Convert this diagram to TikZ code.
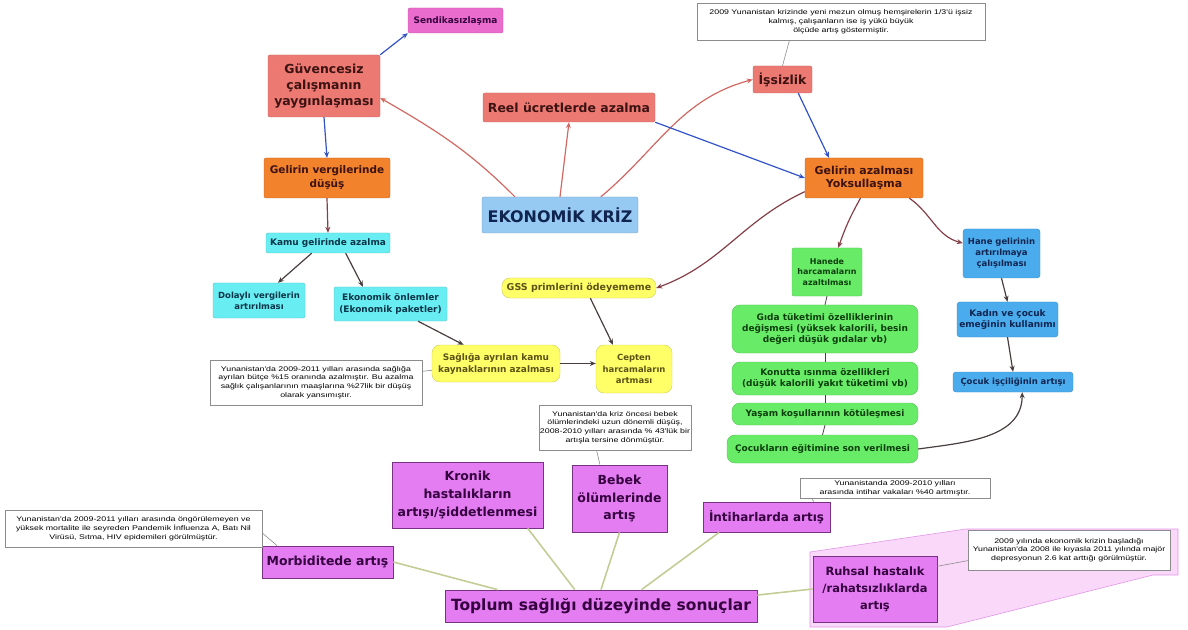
\documentclass[tikz,border=0pt]{standalone}
\usepackage{fontspec}
\setmainfont{Liberation Sans}
\newfontfamily\boxfont{DejaVu Sans}
\newfontfamily\notefont[FakeStretch=1.3]{Liberation Sans}
\usepackage{tikz}
\usetikzlibrary{positioning,calc}
\usetikzlibrary{arrows.meta}
\definecolor{SalmonRed}{RGB}{236,122,114}
\definecolor{PinkBox}{RGB}{234,108,204}
\definecolor{OrangeBox}{RGB}{242,130,44}
\definecolor{SkyBlue}{RGB}{150,202,242}
\definecolor{CyanBox}{RGB}{104,238,242}
\definecolor{YellowBox}{RGB}{255,255,104}
\definecolor{GreenBox}{RGB}{104,236,104}
\definecolor{BlueBox}{RGB}{74,172,236}
\definecolor{VioletBox}{RGB}{228,124,242}
\definecolor{VioletEdge}{RGB}{120,50,130}
\definecolor{CallPink}{RGB}{250,216,250}
\definecolor{CallEdge}{RGB}{226,150,232}
\definecolor{RedLine}{RGB}{210,104,98}
\definecolor{BlueLine}{RGB}{50,82,200}
\definecolor{DarkLine}{RGB}{72,62,62}
\definecolor{WineLine}{RGB}{132,62,72}
\definecolor{OliveLine}{RGB}{196,204,150}
\definecolor{RedText}{RGB}{60,18,18}
\definecolor{NavyText}{RGB}{16,36,80}
\definecolor{TealText}{RGB}{10,52,72}
\definecolor{OliveText}{RGB}{92,82,22}
\definecolor{LeafText}{RGB}{12,62,12}
\definecolor{PlumText}{RGB}{52,0,62}
\newcommand\fs[2]{\fontsize{#1}{#2}\selectfont}
\tikzset{
	box/.style={draw=#1!80!black,fill=#1,line width=0.4pt,inner sep=1pt,align=center},
	redbox/.style={box=SalmonRed,rounded corners=2pt,text=RedText},
	pkbox/.style={box=PinkBox,rounded corners=2pt,text=PlumText},
	orbox/.style={box=OrangeBox,rounded corners=2pt,text=RedText},
	cybox/.style={box=CyanBox,rounded corners=2pt,text=TealText},
	yebox/.style={box=YellowBox,rounded corners=8pt,text=OliveText},
	grbox/.style={box=GreenBox,rounded corners=8pt,text=LeafText},
	blbox/.style={box=BlueBox,rounded corners=3pt,text=NavyText},
	vibox/.style={draw=VioletEdge,fill=VioletBox,line width=0.8pt,inner sep=1pt,align=center,text=PlumText},
	notebox/.style={draw=black!45,fill=white,line width=0.5pt,inner sep=1pt,align=center,font=\notefont\fs{6.8}{8.8}},
	redarr/.style={draw=RedLine,line width=1.2pt,-{Stealth[length=6bp,width=5bp]}},
	bluearr/.style={draw=BlueLine,line width=1.2pt,-{Stealth[length=6bp,width=5bp]}},
	darkarr/.style={draw=DarkLine,line width=1.2pt,-{Stealth[length=6bp,width=5bp]}},
	winearr/.style={draw=WineLine,line width=1.2pt,-{Stealth[length=6bp,width=5bp]}},
	chain/.style={draw=DarkLine,line width=0.8pt},
	link/.style={draw=OliveLine,line width=1.6pt},
	tail/.style={draw=black!45,line width=0.6pt},
}

\begin{document}
\begin{tikzpicture}[x=1bp,y=1bp]
	\useasboundingbox (0,0) rectangle (1188,-630);
	% callout behind the Ruhsal box
	\filldraw[fill=CallPink,draw=CallEdge,line width=0.6pt] (810,-552) -- (966,-529) -- (1178,-529) -- (1178,-575) -- (1153,-575) -- (947,-627) -- (810,-627) -- cycle;

	% upper part
	\node[pkbox,minimum width=95bp,minimum height=25bp,font=\boxfont\bfseries\fs{9}{11}] (send) at (455.5,-20.5) {Sendikasızlaşma};
	\node[redbox,minimum width=112bp,minimum height=62bp,font=\boxfont\bfseries\fs{12.5}{16.5}] (guv) at (324,-86) {Güvencesiz\\çalışmanın\\yaygınlaşması};
	\node[redbox,minimum width=172bp,minimum height=29bp,font=\boxfont\bfseries\fs{12.5}{15}] (reel) at (569,-107.5) {Reel ücretlerde azalma};
	\node[redbox,minimum width=59bp,minimum height=27bp,font=\boxfont\bfseries\fs{12.5}{14}] (issiz) at (782.5,-79.5) {İşsizlik};
	\node[notebox,minimum width=288bp,minimum height=37bp] (notetop) at (841,-21.5) {2009 Yunanistan krizinde yeni mezun olmuş hemşirelerin 1/3'ü işsiz\\kalmış, çalışanların ise iş yükü büyük\\ölçüde artış göstermiştir.};
	\node[orbox,minimum width=118bp,minimum height=40bp,font=\boxfont\bfseries\fs{11}{13.5}] (gelaz) at (864,-178) {Gelirin azalması\\Yoksullaşma};
	\node[box=SkyBlue,rounded corners=2pt,text=NavyText,minimum width=156bp,minimum height=36bp,font=\boxfont\bfseries\fs{16}{20}] (kriz) at (560,-215) {EKONOMİK KRİZ};

	% left branch
	\node[orbox,minimum width=126bp,minimum height=40bp,font=\boxfont\bfseries\fs{10.5}{14}] (gelverg) at (327,-178) {Gelirin vergilerinde\\düşüş};
	\node[cybox,minimum width=124bp,minimum height=20bp,font=\boxfont\bfseries\fs{9}{11}] (kamu) at (328,-243) {Kamu gelirinde azalma};
	\node[cybox,minimum width=92bp,minimum height=35bp,font=\boxfont\bfseries\fs{8.5}{11}] (dolayli) at (259,-300.5) {Dolaylı vergilerin\\artırılması};
	\node[cybox,minimum width=113bp,minimum height=34bp,font=\boxfont\bfseries\fs{9}{11.5}] (ekon) at (390.5,-304) {Ekonomik önlemler\\(Ekonomik paketler)};
	\node[yebox,minimum width=154bp,minimum height=20bp,font=\boxfont\bfseries\fs{9.5}{12}] (gss) at (579,-288) {GSS primlerini ödeyememe};
	\node[yebox,minimum width=128bp,minimum height=37bp,font=\boxfont\bfseries\fs{9}{12}] (sagliga) at (496,-363.5) {Sağlığa ayrılan kamu\\kaynaklarının azalması};
	\node[yebox,minimum width=76bp,minimum height=48bp,font=\boxfont\bfseries\fs{8.5}{11.5}] (cepten) at (634,-369) {Cepten\\harcamaların\\artması};
	\node[notebox,minimum width=212bp,minimum height=45bp] (noteleft) at (316,-382.5) {Yunanistan'da 2009-2011 yılları arasında sağlığa\\ayrılan bütçe \%15 oranında azalmıştır. Bu azalma\\sağlık çalışanlarının maaşlarına \%27lik bir düşüş\\olarak yansımıştır.};

	% right branch
	\node[grbox,rounded corners=2pt,minimum width=70bp,minimum height=48bp,font=\boxfont\bfseries\fs{8}{11}] (hanede) at (827,-272) {Hanede\\harcamaların\\azaltılması};
	\node[grbox,minimum width=186bp,minimum height=48bp,font=\boxfont\bfseries\fs{9}{11.5}] (gida) at (825,-329) {Gıda tüketimi özelliklerinin\\değişmesi (yüksek kalorili, besin\\değeri düşük gıdalar vb)};
	\node[grbox,minimum width=186bp,minimum height=33bp,font=\boxfont\bfseries\fs{9}{11.5}] (konut) at (825,-378.5) {Konutta ısınma özellikleri\\(düşük kalorili yakıt tüketimi vb)};
	\node[grbox,minimum width=186bp,minimum height=22bp,font=\boxfont\bfseries\fs{9}{11.5}] (yasam) at (825,-414) {Yaşam koşullarının kötüleşmesi};
	\node[grbox,minimum width=191bp,minimum height=28bp,font=\boxfont\bfseries\fs{9}{11.5}] (cocegit) at (822.5,-449) {Çocukların eğitimine son verilmesi};
	\node[blbox,minimum width=77bp,minimum height=49bp,font=\boxfont\bfseries\fs{8.5}{11}] (hane) at (1001.5,-253.5) {Hane gelirinin\\artırılmaya\\çalışılması};
	\node[blbox,minimum width=101bp,minimum height=35bp,font=\boxfont\bfseries\fs{9}{11.5}] (kadin) at (1007.5,-319.5) {Kadın ve çocuk\\emeğinin kullanımı};
	\node[blbox,minimum width=120bp,minimum height=20bp,font=\boxfont\bfseries\fs{8.5}{11}] (cocisc) at (1013,-382) {Çocuk işçiliğinin artışı};

	% health outcomes
	\node[notebox,minimum width=150bp,minimum height=45bp] (notebebek) at (615,-427.5) {Yunanistan'da kriz öncesi bebek\\ölümlerindeki uzun dönemli düşüş,\\2008-2010 yılları arasında \% 43'lük bir\\artışla tersine dönmüştür.};
	\node[vibox,minimum width=151bp,minimum height=66bp,font=\boxfont\bfseries\fs{12.5}{18}] (kronik) at (467.5,-495) {Kronik\\hastalıkların\\artışı/şiddetlenmesi};
	\node[vibox,minimum width=95bp,minimum height=67bp,font=\boxfont\bfseries\fs{12.5}{18}] (bebek) at (619.5,-498.5) {Bebek\\ölümlerinde\\artış};
	\node[vibox,minimum width=127bp,minimum height=30bp,font=\boxfont\bfseries\fs{12}{15}] (intihar) at (766.5,-517) {İntiharlarda artış};
	\node[notebox,minimum width=190bp,minimum height=20bp] (noteintihar) at (895,-488) {Yunanistanda 2009-2010 yılları\\arasında intihar vakaları \%40 artmıştır.};
	\node[vibox,minimum width=131bp,minimum height=32bp,font=\boxfont\bfseries\fs{12.5}{15}] (morb) at (327.5,-562) {Morbiditede artış};
	\node[notebox,minimum width=257bp,minimum height=37bp] (notemorb) at (133.5,-528.5) {Yunanistan'da 2009-2011 yılları arasında öngörülemeyen ve\\yüksek mortalite ile seyreden Pandemik İnfluenza A, Batı Nil\\Virüsü, Sıtma, HIV epidemileri görülmüştür.};
	\node[vibox,minimum width=312bp,minimum height=32bp,font=\boxfont\bfseries\fs{15.5}{20}] (toplum) at (601,-606) {Toplum sağlığı düzeyinde sonuçlar};
	\node[vibox,minimum width=124bp,minimum height=66bp,font=\boxfont\bfseries\fs{11.5}{17}] (ruhsal) at (875,-589) {Ruhsal hastalık\\/rahatsızlıklarda\\artış};
	\node[notebox,minimum width=202bp,minimum height=40bp] (noteruhsal) at (1069,-550) {2009 yılında ekonomik krizin başladığı\\Yunanistan'da 2008 ile kıyasla 2011 yılında majör\\depresyonun 2.6 kat arttığı görülmüştür.};

	% connectors
	\draw[bluearr] (guv.north east) -- (send.south west);
	\draw[redarr] (kriz.158) to[out=135,in=-30] (guv.-12);
	\draw[redarr] (kriz.north) -- (reel.south);
	\draw[redarr] (kriz.24) to[out=40,in=195] (issiz.west);
	\draw[bluearr] (reel.south east) -- (gelaz.west);
	\draw[bluearr] (issiz.-41) -- (gelaz.150);
	\draw[bluearr] (guv.south) -- (gelverg.north);
	\draw[winearr] (gelverg.south) -- (kamu.north);
	\draw[darkarr] (kamu.-148) -- (dolayli.43);
	\draw[darkarr] (kamu.-30) -- (ekon.148);
	\draw[darkarr] (ekon.-32) -- (sagliga.150);
	\draw[darkarr] (gss.-42) -- (cepten.131);
	\draw[darkarr] (sagliga.east) -- (sagliga.east -| cepten.west);
	\draw[winearr] (gelaz.193) to[out=205,in=20] (gss.east);
	\draw[winearr] (gelaz.-100) to[bend right=5] (hanede.65);
	\draw[winearr] (gelaz.-24) to[out=-35,in=165] (hane.165);
	\draw[chain] (hanede.south) -- (gida.north);
	\draw[chain] (gida.south) -- (konut.north);
	\draw[chain] (konut.south) -- (yasam.north);
	\draw[chain] (yasam.south) -- (cocegit.north);
	\draw[darkarr] (hane.south) -- (kadin.north);
	\draw[darkarr] (kadin.south) -- (cocisc.north);
	\draw[darkarr] (cocegit.east) to[out=8,in=-90] (cocisc.-48);
	\draw[link] (toplum.171) -- (morb.east);
	\draw[link] (toplum.148) -- (kronik.-29);
	\draw[link] (toplum.north) -- (bebek.south);
	\draw[link] (toplum.22) -- (intihar.198);
	\draw[link] (toplum.4) -- (ruhsal.west);
	% note tails
	\draw[tail] (notetop.200) -- (issiz.north);
	\draw[tail] (noteleft.6) -- (sagliga.186);
	\draw[tail] (notebebek.-129) -- (bebek.120);
	\draw[tail] (noteintihar.187) -- (intihar.18);
	\draw[tail] (notemorb.-2) -- (morb.162);
	\draw[tail] (ruhsal.20) -- (noteruhsal.186);
\end{tikzpicture}
\end{document}
